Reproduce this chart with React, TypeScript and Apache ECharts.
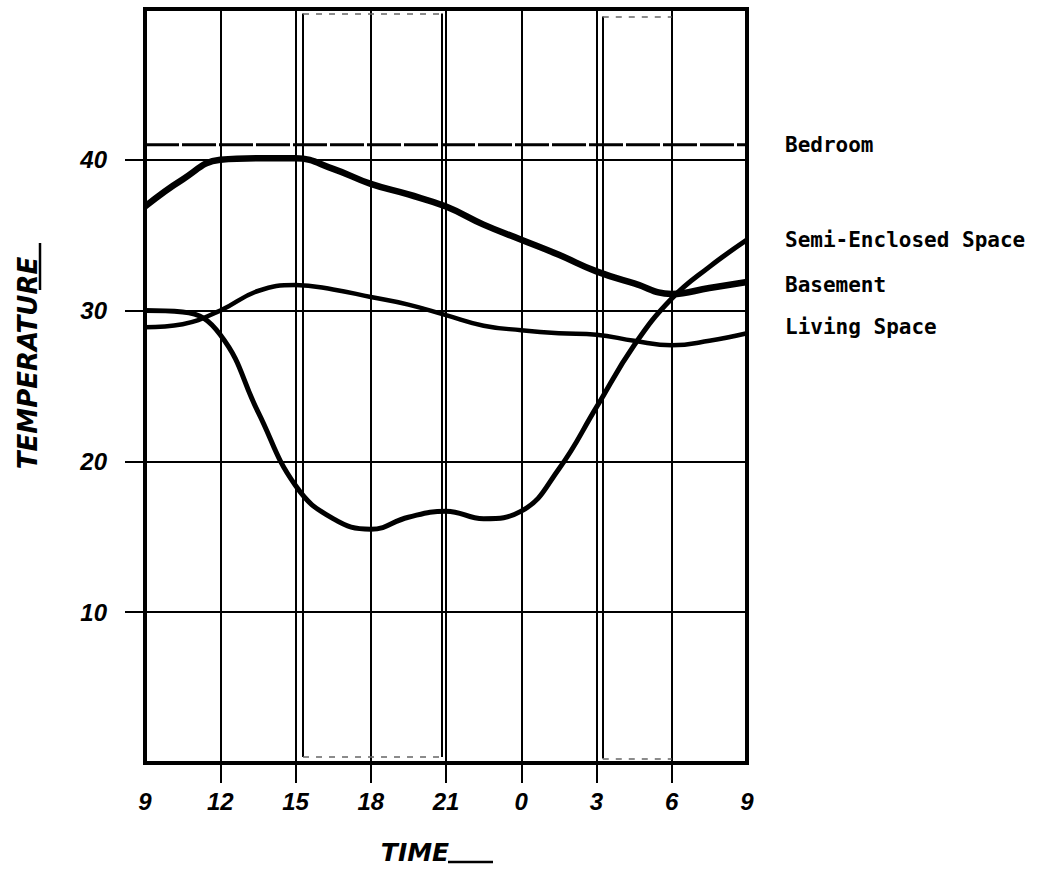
import React, { useEffect, useRef } from "react";
import * as echarts from "echarts";

// x values are hours elapsed since 09:00 (0..24); tick labels are clock hours
const startHour = 9;
const xTickValues = [3, 6, 9, 12, 15, 18, 21];
const yTickValues = [10, 20, 30, 40];

const seriesNames = ["Bedroom", "Semi-Enclosed Space", "Basement", "Living Space"];
const labelTemps = [41, 34.7, 31.7, 28.9];

const bedroomHours = [0, 24];
const bedroomTemp = [41, 41];

const curveHours = [0, 1.5, 3, 4.5, 6, 7.5, 9, 10.5, 12, 13.5, 15, 16.5, 18, 19.5, 21, 22.5, 24];
const semiTemp = [30.0, 29.9, 28.4, 23.3, 18.4, 16.2, 15.5, 16.3, 16.7, 16.2, 16.7, 19.5, 23.6, 27.7, 30.8, 32.9, 34.7];
const basementTemp = [36.9, 38.7, 40.0, 40.1, 40.1, 39.4, 38.4, 37.7, 36.9, 35.7, 34.7, 33.7, 32.6, 31.8, 31.1, 31.5, 31.9];
const livingTemp = [28.9, 29.1, 30.0, 31.3, 31.7, 31.4, 30.9, 30.4, 29.7, 29.0, 28.7, 28.5, 28.4, 28.0, 27.7, 28.0, 28.5];

// rectangular boxes drawn on the grid (hours elapsed, temperature)
const boxStart = [6.3, 18.25];
const boxEnd = [11.85, 21];
const boxLow = [0.4, 0.3];
const boxHigh = [49.7, 49.5];

const pairs = (xs: number[], ys: number[]) => xs.map((x, i) => [x, ys[i]]);

const handFont = {
  fontFamily: "Liberation Sans",
  fontStyle: "italic" as const,
  fontWeight: "bold" as const,
  fontSize: 24,
  color: "#000",
};

export default function App() {
  const ref = useRef<HTMLDivElement>(null);
  useEffect(() => {
    document.body.style.margin = "0";
    if (!ref.current) return;
    const chart = echarts.init(ref.current, undefined, { renderer: "svg" });

    const boxLines: any[] = [];
    boxStart.forEach((s, i) => {
      const e = boxEnd[i];
      const lo = boxLow[i];
      const hi = boxHigh[i];
      const solid = { color: "#000", width: 2, type: "solid" };
      const dashed = { color: "#666", width: 1.5, type: [6, 7] };
      boxLines.push([{ coord: [s, lo], lineStyle: solid }, { coord: [s, hi] }]);
      boxLines.push([{ coord: [e, lo], lineStyle: solid }, { coord: [e, hi] }]);
      boxLines.push([{ coord: [s, hi], lineStyle: dashed }, { coord: [e, hi] }]);
      boxLines.push([{ coord: [s, lo], lineStyle: dashed }, { coord: [e, lo] }]);
    });

    const lineBase = {
      type: "line" as const,
      showSymbol: false,
      symbol: "none",
      smooth: 0.45,
      silent: true,
    };

    chart.setOption({
      animation: false,
      backgroundColor: "#fff",
      grid: {
        left: 145,
        right: 293,
        top: 9,
        bottom: 109,
        show: true,
        borderColor: "#000",
        borderWidth: 4,
        backgroundColor: "transparent",
      },
      xAxis: {
        type: "value",
        min: 0,
        max: 24,
        interval: 3,
        axisLine: { show: false },
        axisTick: {
          show: true,
          length: 20,
          inside: false,
          customValues: xTickValues,
          lineStyle: { color: "#000", width: 2 },
        },
        axisLabel: {
          ...handFont,
          margin: 26,
          formatter: (v: number) => String((startHour + v) % 24),
        },
        splitLine: { show: true, lineStyle: { color: "#000", width: 2 } },
      },
      yAxis: {
        type: "value",
        min: 0,
        max: 50,
        interval: 10,
        axisLine: { show: false },
        axisTick: {
          show: true,
          length: 20,
          inside: false,
          customValues: yTickValues,
          lineStyle: { color: "#000", width: 2 },
        },
        axisLabel: {
          ...handFont,
          margin: 38,
          formatter: (v: number) => (v === 0 || v === 50 ? "" : String(v)),
        },
        splitLine: { show: true, lineStyle: { color: "#000", width: 2 } },
      },
      series: [
        {
          ...lineBase,
          name: seriesNames[0],
          smooth: false,
          data: pairs(bedroomHours, bedroomTemp),
          lineStyle: { color: "#000", width: 3, type: [34, 3] },
          markLine: {
            silent: true,
            symbol: ["none", "none"],
            label: { show: false },
            lineStyle: { color: "#000", width: 2, type: "solid" },
            data: boxLines,
          },
        },
        {
          ...lineBase,
          name: seriesNames[1],
          data: pairs(curveHours, semiTemp),
          lineStyle: { color: "#000", width: 5 },
        },
        {
          ...lineBase,
          name: seriesNames[2],
          data: pairs(curveHours, basementTemp),
          lineStyle: { color: "#000", width: 6.5 },
        },
        {
          ...lineBase,
          name: seriesNames[3],
          data: pairs(curveHours, livingTemp),
          lineStyle: { color: "#000", width: 4.5 },
        },
      ],
    });

    const labelGraphics = seriesNames.map((n, i) => {
      const p = chart.convertToPixel({ gridIndex: 0 }, [24, labelTemps[i]]) as number[];
      return {
        type: "text",
        x: p[0] + 38,
        y: p[1],
        style: {
          text: n,
          fontFamily: "DejaVu Sans Mono",
          fontWeight: "bold",
          fontSize: 21,
          fill: "#000",
          align: "left",
          verticalAlign: "middle",
        },
      };
    });

    chart.setOption({
      graphic: [
        ...labelGraphics,
        {
          type: "text",
          x: 28,
          y: 363,
          rotation: Math.PI / 2,
          style: {
            text: "TEMPERATURE",
            fontFamily: "DejaVu Sans",
            fontStyle: "italic",
            fontWeight: "bold",
            fontSize: 26,
            fill: "#000",
            align: "center",
            verticalAlign: "middle",
          },
        },
        {
          type: "line",
          shape: { x1: 40, y1: 243, x2: 40, y2: 290 },
          style: { stroke: "#000", lineWidth: 2.5 },
        },
        {
          type: "text",
          x: 415,
          y: 852,
          style: {
            text: "TIME",
            fontFamily: "DejaVu Sans",
            fontStyle: "italic",
            fontWeight: "bold",
            fontSize: 25,
            fill: "#000",
            align: "center",
            verticalAlign: "middle",
          },
        },
        {
          type: "line",
          shape: { x1: 448, y1: 862, x2: 493, y2: 862 },
          style: { stroke: "#000", lineWidth: 2.5 },
        },
      ],
    });

    return () => chart.dispose();
  }, []);
  return <div ref={ref} style={{ width: 1040, height: 872 }} />;
}
